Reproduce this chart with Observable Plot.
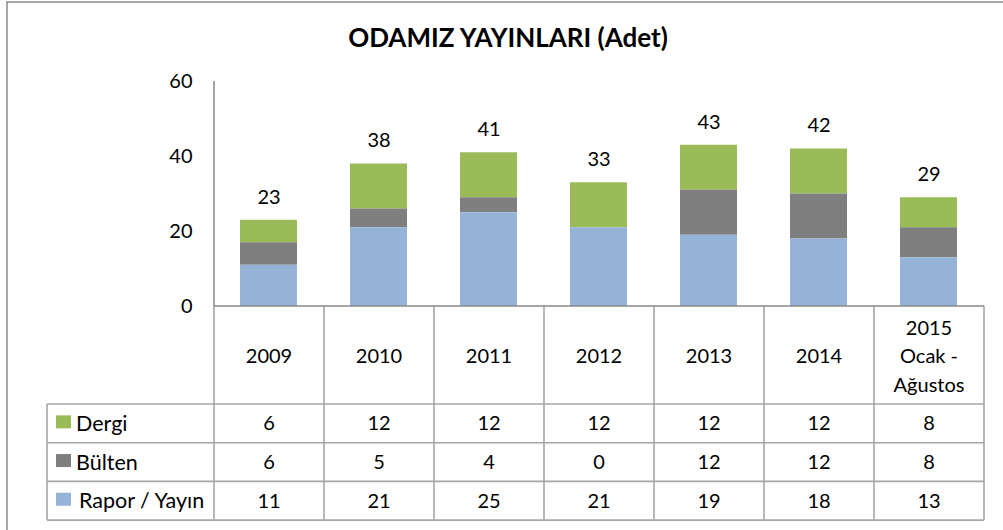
<!DOCTYPE html>
<html><head><meta charset="utf-8">
<script src="https://cdn.jsdelivr.net/npm/d3@7"></script>
<script src="https://cdn.jsdelivr.net/npm/@observablehq/plot@0.6"></script>
<style>body{margin:0;background:#fff} svg{display:block}</style>
</head><body><div id="chart"></div>
<script>
const title = "ODAMIZ YAYINLARI (Adet)";
const years = ["2009", "2010", "2011", "2012", "2013", "2014", "2015 Ocak - Ağustos"];
const yearLabels = [["2009"], ["2010"], ["2011"], ["2012"], ["2013"], ["2014"], ["2015", "Ocak -", "Ağustos"]];
const seriesNames = ["Dergi", "Bülten", "Rapor / Yayın"];
const dergi = [6, 12, 12, 12, 12, 12, 8];
const bulten = [6, 5, 4, 0, 12, 12, 8];
const rapor = [11, 21, 25, 21, 19, 18, 13];
const seriesColors = ["#9BBB59", "#7F7F7F", "#95B3D7"];
const yTicks = [0, 20, 40, 60];

const seriesValues = [dergi, bulten, rapor];
const rows = years.flatMap((yr, i) => seriesNames.map((s, k) => ({year: yr, series: s, value: seriesValues[k][i]})));
const totals = years.map((yr, i) => ({year: yr, total: dergi[i] + bulten[i] + rapor[i]}));

const FONT = "Lato, 'Open Sans', sans-serif";
const W = 1003, H = 530;
const lineColor = "#A6A6A6";
const axisColor = "#898989";

function tableMark(index, scales, values, dims) {
  const {y} = scales;
  const n = years.length;
  const left = dims.marginLeft, right = dims.width - dims.marginRight;
  const step = (right - left) / n;
  const colCenter = i => left + (i + 0.5) * step;
  const y0 = y(0);
  const headerBottom = y0 + 98;
  const rowH = 38.7;
  const labelLeft = 47;
  const g = d3.create("svg:g").attr("font-family", FONT).attr("font-size", 20).attr("fill", "#000");

  // outer chart border
  g.append("rect").attr("x", 7).attr("y", 2).attr("width", dims.width + 20).attr("height", dims.height + 20)
    .attr("fill", "none").attr("stroke", "#8C8C8C").attr("stroke-width", 1.5);

  // title
  g.append("text").attr("x", 508).attr("y", 38).attr("dy", "0.35em").attr("text-anchor", "middle")
    .attr("font-weight", "bold").attr("font-size", 26).text(title);

  const lines = g.append("g").attr("stroke", lineColor).attr("stroke-width", 1.6).attr("fill", "none");
  for (let i = 0; i <= n; ++i) {
    const xx = left + i * step;
    lines.append("line").attr("x1", xx).attr("x2", xx).attr("y1", y0).attr("y2", headerBottom + 3 * rowH);
  }
  for (let r = 0; r <= 3; ++r) {
    const yy = headerBottom + r * rowH;
    lines.append("line").attr("x1", labelLeft).attr("x2", right).attr("y1", yy).attr("y2", yy);
  }
  lines.append("line").attr("x1", labelLeft).attr("x2", labelLeft).attr("y1", headerBottom).attr("y2", headerBottom + 3 * rowH);

  // axis lines
  g.append("line").attr("x1", left).attr("x2", left).attr("y1", y(yTicks[yTicks.length - 1])).attr("y2", y0)
    .attr("stroke", axisColor).attr("stroke-width", 1.5);
  g.append("line").attr("x1", left).attr("x2", right).attr("y1", y0).attr("y2", y0)
    .attr("stroke", axisColor).attr("stroke-width", 1.5);

  // header labels
  const headerMid = (y0 + headerBottom) / 2 + 1;
  yearLabels.forEach((lbls, i) => {
    const lh = 28.5;
    lbls.forEach((t, j) => {
      g.append("text").attr("x", colCenter(i)).attr("y", headerMid + (j - (lbls.length - 1) / 2) * lh)
        .attr("dy", "0.35em").attr("text-anchor", "middle").text(t);
    });
  });

  // data rows
  seriesNames.forEach((s, k) => {
    const cy = headerBottom + (k + 0.5) * rowH;
    g.append("rect").attr("x", 56).attr("y", cy - 8).attr("width", 15).attr("height", 13).attr("fill", seriesColors[k]);
    g.append("text").attr("x", k === 2 ? 79 : 76).attr("y", cy).attr("dy", "0.35em").attr("text-anchor", "start")
      .attr("font-size", 21.5).text(s);
    seriesValues[k].forEach((v, i) => {
      g.append("text").attr("x", colCenter(i)).attr("y", cy).attr("dy", "0.35em").attr("text-anchor", "middle").text(v);
    });
  });
  return g.node();
}

const chart = Plot.plot({
  width: W,
  height: H,
  marginLeft: 214,
  marginRight: 19,
  marginTop: 81,
  marginBottom: 224,
  style: {fontFamily: FONT, fontSize: "20px", background: "#fff", color: "#000"},
  x: {domain: years, paddingInner: 0.48, paddingOuter: 0.24, axis: null},
  y: {domain: [0, 60], axis: null},
  color: {domain: seriesNames, range: seriesColors},
  marks: [
    Plot.barY(rows, {x: "year", y: "value", fill: "series", order: ["Rapor / Yayın", "Bülten", "Dergi"]}),
    Plot.axisY({ticks: yTicks, tickSize: 0, tickPadding: 22, fontSize: 20, label: null}),
    Plot.text(totals, {x: "year", y: "total", text: d => String(d.total), dy: -23, fontSize: 20, fill: "#000"}),
    tableMark
  ]
});
document.getElementById("chart").append(chart);
</script>
</body></html>
